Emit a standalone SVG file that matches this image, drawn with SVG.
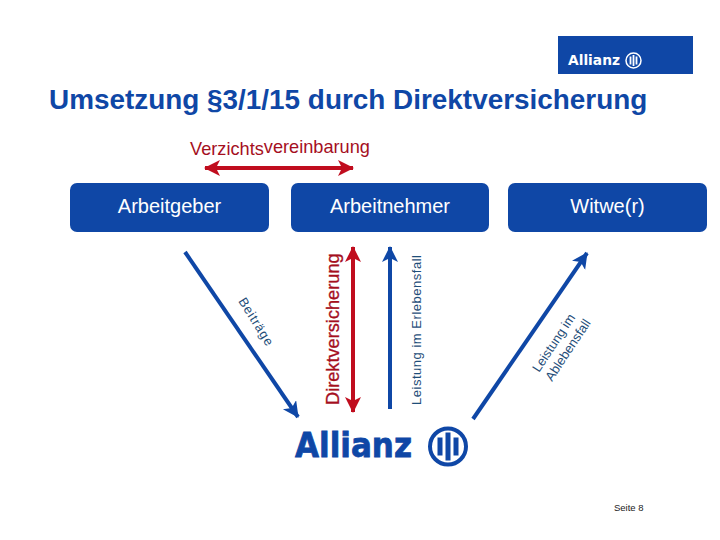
<svg xmlns="http://www.w3.org/2000/svg" width="720" height="540" viewBox="0 0 720 540">
<style>
text{font-family:"Liberation Sans",Arial,sans-serif}
.box{fill:#0f47a6}
.nl{font-size:20px;fill:#fff;text-anchor:middle}
.blue{stroke:#0f47a6;stroke-width:4;fill:none}
.red{stroke:#c00d1e;stroke-width:4;fill:none}
.sm{font-size:13px;fill:#1f4e79}
.logo{font-family:"DejaVu Sans",sans-serif;font-weight:bold;fill:#0f47a6}
</style>
<defs>
<marker id="ab" markerUnits="userSpaceOnUse" markerWidth="18" markerHeight="18" refX="15" refY="8" orient="auto"><path d="M0 0L16 8L0 16L4 8Z" fill="#0f47a6"/></marker>
<marker id="ar" markerUnits="userSpaceOnUse" markerWidth="18" markerHeight="18" refX="15" refY="8" orient="auto-start-reverse"><path d="M0 0L16 8L0 16L4 8Z" fill="#c00d1e"/></marker>
</defs>
<rect width="720" height="540" fill="#fff"/>
<g id="logo-top">
<rect x="558" y="36" width="135" height="38" fill="#0f47a6"/>
<text x="568" y="65" class="logo" style="fill:#fff" font-size="14" textLength="52" lengthAdjust="spacingAndGlyphs">Allianz</text>
<g fill="none" stroke="#fff"><circle cx="633.500" cy="60.500" r="7.500" stroke-width="1.500"/><path d="M630.500 56.500V64.500M633.500 55V66M636.500 56.500V64.500" stroke-width="1.800"/></g>
</g>
<text id="title" x="49" y="109" font-size="27.900" font-weight="bold" fill="#0f47a6">Umsetzung §3/1/15 durch Direktversicherung</text>
<text id="verzicht" x="190" y="155" font-size="18.200" fill="#a50f1e">Verzichts<tspan dy="-2">vereinbarung</tspan></text>
<g id="connectors">
<line class="red" x1="205" y1="168" x2="353" y2="168" marker-start="url(#ar)" marker-end="url(#ar)"/>
<line class="blue" x1="185" y1="252" x2="298" y2="417" marker-end="url(#ab)"/>
<line class="red" x1="353" y1="247" x2="353" y2="412" marker-start="url(#ar)" marker-end="url(#ar)"/>
<line class="blue" x1="390" y1="409" x2="390" y2="247" marker-end="url(#ab)"/>
<line class="blue" x1="473" y1="419" x2="587" y2="253" marker-end="url(#ab)"/>
</g>
<g id="arbeitgeber"><rect class="box" x="70" y="183" width="199" height="49" rx="7"/><text class="nl" x="169.500" y="213">Arbeitgeber</text></g>
<g id="arbeitnehmer"><rect class="box" x="291" y="183" width="198" height="49" rx="7"/><text class="nl" x="390" y="213">Arbeitnehmer</text></g>
<g id="witwe"><rect class="box" x="508" y="183" width="199" height="49" rx="7"/><text class="nl" x="607.500" y="213">Witwe(r)</text></g>
<text class="sm" transform="translate(238 301) rotate(58)" textLength="54">Beiträge</text>
<text transform="translate(339 405) rotate(-90)" font-size="18.200" fill="#a50f1e" stroke="#a50f1e" stroke-width="0.300">Direktversicherung</text>
<text class="sm" transform="translate(421 405) rotate(-90)" textLength="150">Leistung im Erlebensfall</text>
<text class="sm" transform="translate(539 373) rotate(-56.500)">Leistung im</text>
<text class="sm" transform="translate(552 382) rotate(-56.500)">Ablebensfall</text>
<g id="logo-bottom">
<text x="295" y="457" class="logo" font-size="34" textLength="117" lengthAdjust="spacingAndGlyphs" stroke="#0f47a6" stroke-width="0.800">Allianz</text>
<g fill="none" stroke="#0f47a6"><circle cx="448" cy="446.500" r="18" stroke-width="4"/><path d="M440 437.500V455.500M448 432.500V460.500M456 437.500V455.500" stroke-width="5"/></g>
</g>
<text id="seite" x="614" y="511" font-size="9.500" fill="#222">Seite 8</text>
</svg>
